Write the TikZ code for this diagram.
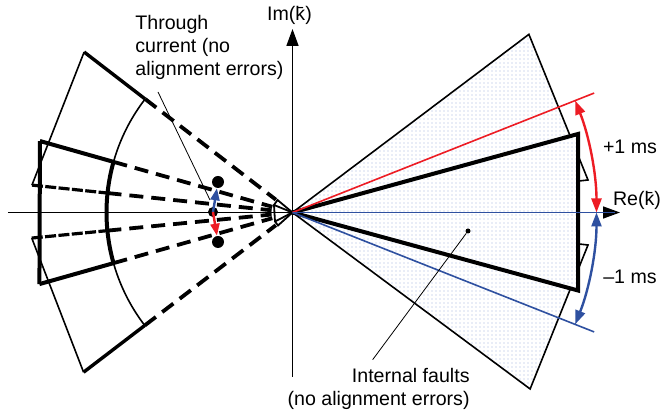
\documentclass[tikz,border=0pt]{standalone}
\usepackage{fontspec}
\setmainfont{Liberation Sans}
\usetikzlibrary{arrows.meta, patterns.meta, calc}

\definecolor{msred}{RGB}{237,28,36}
\definecolor{msblue}{RGB}{46,80,160}
\definecolor{dotcol}{RGB}{160,178,222}

\begin{document}
\begin{tikzpicture}[x=5pt, y=5pt, font=\fontsize{9.8}{11.6}\selectfont,
		thinedge/.style={line width=0.8pt},
		boldedge/.style={line width=2pt, line join=miter},
		dashedge/.style={line width=1.9pt, dash pattern=on 7pt off 4pt},
		longdash/.style={line width=1.6pt, dash pattern=on 5.5pt off 1.2pt},
		axisline/.style={line width=0.8pt, -{Triangle[length=8.5pt, width=6pt]}},
		rangearrow/.style={line width=1.2pt, {Triangle[length=7pt, width=5pt]}-{Triangle[length=7pt, width=5pt]}},
		phasor/.style={line width=1.2pt, -{Triangle[length=6pt, width=4.5pt]}},
		leader/.style={line width=0.4pt},
		dotfill/.style={pattern={Dots[distance=2pt, radius=0.35pt]}, pattern color=dotcol},
		bigdot/.style={circle, fill=black, inner sep=0pt, minimum size=6pt}]
		
		\useasboundingbox (-29.25,-20.25) rectangle (36.95,21.25);
		
		\coordinate (O) at (0,0);
		
		% Internal fault region (right)
		\coordinate (rt) at (37:29.6);
		\coordinate (rb) at (-36.6:29.6);
		\coordinate (rq1) at (29.55,3.25);
		\coordinate (rq2) at (29.55,-3.25);
		\coordinate (rk1) at (28.55,7.85);
		\coordinate (rk2) at (28.55,-7.8);
		
		\fill[white] (O) -- (rt) -- (28.55,5.72) -- (28.55,-5.73) -- (rb) -- cycle;
		\fill[dotfill] (O) -- (rt) -- (28.55,5.72) -- (28.55,-5.73) -- (rb) -- cycle;
		\draw[thinedge] (O) -- (rt) -- (rq1) -- (28.55,3.14);
		\draw[thinedge] (O) -- (rb) -- (rq2) -- (28.55,-3.14);
		\fill[white] (O) -- (rk1) -- (rk2) -- cycle;
		\fill[dotfill] (O) -- (rk1) -- (rk2) -- cycle;
		\draw[boldedge] (O) -- (rk1) -- (rk2) -- cycle;
		
		% Through current region (left)
		\coordinate (lp1) at (142.4:26.3);
		\coordinate (lq1) at (174:26.2);
		\coordinate (lq2) at (185.6:26.2);
		\coordinate (lp2) at (217.4:26.3);
		\coordinate (lt1) at (164.2:26.25);
		\coordinate (lt2) at (195.8:26.3);
		
		\draw[thinedge] (lp1) -- (lq1);
		\draw[thinedge] (lq2) -- (lp2);
		\draw[boldedge] (lt1) -- (lt2);
		\draw[line width=1.7pt] (lp1) -- (142.4:18.6);
		\draw[line width=1.7pt] (lp2) -- (217.4:18.6);
		\draw[boldedge] (lt1) -- (164.2:18.6);
		\draw[boldedge] (lt2) -- (195.8:18.6);
		\draw[longdash] (lq1) -- (174:18.6);
		\draw[longdash] (lq2) -- (185.6:18.6);
		\foreach \a in {142.4, 164.2, 174, 185.6, 195.8, 217.4}
		\draw[dashedge] (\a:18.6) -- (\a:2.1);
		
		\draw[thinedge] (142.4:18.6) arc[start angle=142.4, end angle=217.4, radius=18.6];
		\draw[boldedge] (164.2:18.6) arc[start angle=164.2, end angle=195.8, radius=18.6];
		
		% small outline at the origin
		\draw[line width=0.9pt, line join=miter] (O) -- (-1.5,1.25) -- (-1.85,0.75) -- (-1.75,-0.9) -- (-1.45,-1.3) -- cycle;
		\draw[line width=0.9pt] (-1.85,0.75) -- (O) -- (-1.75,-0.9);
		
		% Axes
		\draw[axisline] (-28.45,0) -- (32.75,0);
		\draw[axisline] (0,-16.45) -- (0,18.35);
		\node (imlabel) at (-0.3,19.7) {Im(\={k})};
		\node (relabel) at (34.45,1.25) {Re(\={k})};
		
		% Alignment error limits
		\draw[thinedge, msred] (O) -- (21.6:32.45);
		\draw[thinedge, msblue] (O) -- (-21.6:32.45);
		\draw[thinedge, msblue] (O) -- (32.2,0);
		\draw[rangearrow, msred] (21.6:30.4) arc[start angle=21.6, end angle=0, radius=30.4];
		\draw[rangearrow, msblue] (-21.6:30.4) arc[start angle=-21.6, end angle=0, radius=30.4];
		\node (plus) at (33.75,6.55) {+1 ms};
		\node (minus) at (33.75,-6.45) {--1 ms};
		
		% Through current phasors
		\node[bigdot] (dotup) at (-7.45,3.05) {};
		\node[bigdot, minimum size=5pt] (dotmid) at (-7.95,0.05) {};
		\node[bigdot] (dotlow) at (-7.45,-2.95) {};
		\draw[phasor, msblue] (dotmid.center) -- (dotup);
		\draw[phasor, msred] (dotmid.center) -- (dotlow);
		
		% Labels
		\node[anchor=north west, align=left, inner sep=0pt] (thru) at (-15.75,19.8) {Through\\current (no\\alignment errors)};
		\coordinate (thrutip) at (-8.25,1.25);
		\draw[leader] ($(thru.south west)+(2.3,-1.2)$) -- (thrutip);
		
		\node[circle, fill=black, inner sep=0pt, minimum size=2.5pt] (faultdot) at (17.55,-1.85) {};
		\node[anchor=south east, align=right, inner sep=0pt] (faults) at (17.75,-19.75) {Internal faults\\(no alignment errors)};
		\draw[leader] ($(faults.north)+(-0.6,0.8)$) -- (faultdot);
		
	\end{tikzpicture}
\end{document}
